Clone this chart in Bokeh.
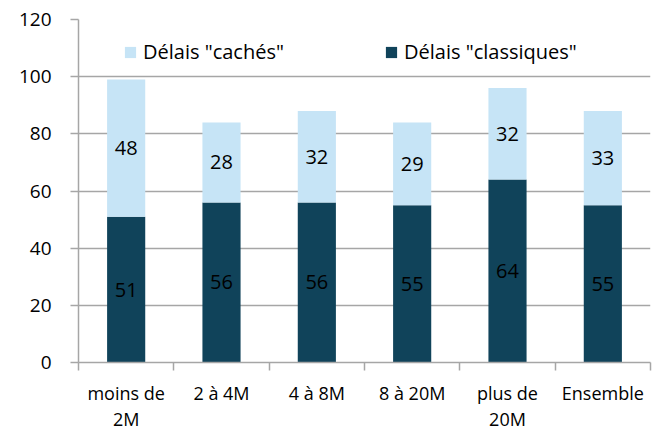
from bokeh.plotting import figure
from bokeh.models import ColumnDataSource, FixedTicker, Legend, LegendItem, Range1d
from bokeh.core.properties import value
from bokeh.embed import file_html
from bokeh.resources import INLINE

categories = ["moins de\n2M", "2 à 4M", "4 à 8M", "8 à 20M", "plus de\n20M", "Ensemble"]
classiques = [51, 56, 56, 55, 64, 55]
caches = [48, 28, 32, 29, 32, 33]
y_ticks = [0, 20, 40, 60, 80, 100, 120]

DARK = "#10435A"
LIGHT = "#C6E4F6"
GRID = "#A6A6A6"
FONT = "Open Sans"
FS = "18px"

n = len(categories)
xc = [i + 0.5 for i in range(n)]
tops = [a + b for a, b in zip(classiques, caches)]
src = ColumnDataSource(dict(
    x=xc, cl=classiques, ca=caches, top=tops,
    cl_mid=[a / 2 for a in classiques],
    ca_mid=[a + b / 2 for a, b in zip(classiques, caches)],
    cl_txt=[str(v) for v in classiques],
    ca_txt=[str(v) for v in caches],
))

p = figure(frame_width=572, frame_height=343, output_backend="svg", toolbar_location=None,
           x_range=Range1d(0, n), y_range=Range1d(0, 120),
           min_border_left=78, min_border_right=5, min_border_top=19, min_border_bottom=68)
p.outline_line_color = None
p.background_fill_color = "white"

r1 = p.vbar(x="x", width=0.4, bottom=0, top="cl", source=src, fill_color=DARK, line_color=None)
r2 = p.vbar(x="x", width=0.4, bottom="cl", top="top", source=src, fill_color=LIGHT, line_color=None)

p.text(x="x", y="cl_mid", text="cl_txt", source=src, text_align="center", text_baseline="middle",
       text_font=value(FONT), text_font_size="20px", text_color="black")
p.text(x="x", y="ca_mid", text="ca_txt", source=src, text_align="center", text_baseline="middle",
       text_font=value(FONT), text_font_size="20px", text_color="black")

# y axis
p.yaxis.ticker = FixedTicker(ticks=y_ticks)
p.yaxis.axis_line_color = GRID
p.yaxis.axis_line_width = 1.5
p.yaxis.major_tick_line_color = GRID
p.yaxis.major_tick_line_width = 1.5
p.yaxis.major_tick_out = 8
p.yaxis.major_tick_in = 0
p.yaxis.minor_tick_line_color = None
p.yaxis.major_label_standoff = 19
p.yaxis.major_label_text_font = FONT
p.yaxis.major_label_text_font_size = "19px"
p.yaxis.major_label_text_color = "black"

p.ygrid.grid_line_color = GRID
p.ygrid.grid_line_width = 1.5
p.xgrid.grid_line_color = None

# x axis
p.xaxis.ticker = FixedTicker(ticks=xc, minor_ticks=list(range(n + 1)))
p.xaxis.major_label_overrides = {xv: c for xv, c in zip(xc, categories)}
p.xaxis.axis_line_color = GRID
p.xaxis.axis_line_width = 1.5
p.xaxis.major_tick_line_color = None
p.xaxis.major_tick_out = 0
p.xaxis.major_tick_in = 0
p.xaxis.minor_tick_line_color = GRID
p.xaxis.minor_tick_line_width = 1.5
p.xaxis.minor_tick_out = 8
p.xaxis.minor_tick_in = 0
p.xaxis.major_label_standoff = 10
p.xaxis.major_label_text_font = FONT
p.xaxis.major_label_text_font_size = FS
p.xaxis.major_label_text_line_height = 1.1
p.xaxis.major_label_text_color = "black"

def make_legend(label, r, loc):
    lg = Legend(items=[LegendItem(label=label, renderers=[r])], location=loc,
                orientation="horizontal", border_line_color=None, background_fill_alpha=0,
                glyph_width=14, glyph_height=14, label_standoff=6, padding=0, margin=0,
                label_text_font=FONT, label_text_font_size="20px", label_text_color="black")
    return lg

p.add_layout(make_legend('Délais "cachés"', r2, (45, 297)))
p.add_layout(make_legend('Délais "classiques"', r1, (306, 297)))

open("out.html", "w").write(file_html(p, INLINE))
